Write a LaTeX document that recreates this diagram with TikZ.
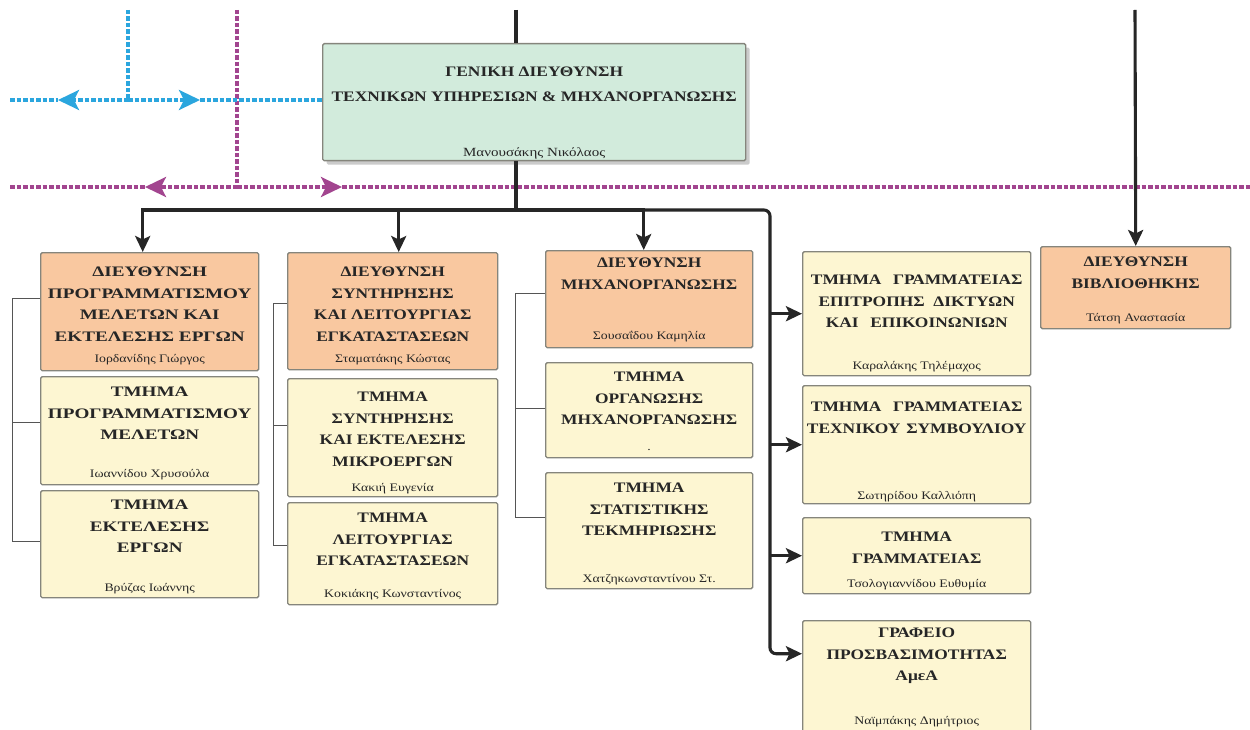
\documentclass[tikz,border=0pt]{standalone}
\usepackage{fontspec}
\setmainfont{Liberation Serif}
\newfontfamily\gkfont{Liberation Serif}[FakeStretch=1.2]
\newfontfamily\gkwide{Liberation Serif}[FakeStretch=1.32]
\usetikzlibrary{arrows.meta,shadows}
\definecolor{boxgreen}{HTML}{D2EBDC}
\definecolor{boxorange}{HTML}{F9C8A0}
\definecolor{boxyellow}{HTML}{FDF6D2}
\definecolor{boxline}{HTML}{85857C}
\definecolor{dashblue}{HTML}{2BA6DE}
\definecolor{dashpurple}{HTML}{A2458F}
\definecolor{linkblack}{HTML}{262626}
\definecolor{txt}{HTML}{262626}
\definecolor{brk}{HTML}{555555}
\tikzset{
  unit/.style={draw=boxline, line width=1.4pt, rounded corners=1.5pt, inner sep=0pt, anchor=north west},
  orgbox/.style={unit, fill=boxorange},
  yelbox/.style={unit, fill=boxyellow},
  title/.style={font=\gkfont\bfseries\fontsize{14.5}{21.5}\selectfont, align=center, text=txt, inner sep=0pt, anchor=north},
  widetitle/.style={title, font=\gkwide\bfseries\fontsize{14.5}{21.5}\selectfont},
  pname/.style={font=\gkfont\fontsize{11.5}{13}\selectfont, text=txt, inner sep=0pt, anchor=base},
  link/.style={draw=linkblack, line width=3.1pt},
  tip/.style={-{Stealth[length=16pt,width=15pt,inset=3.5pt]}},
  brace/.style={draw=brk, line width=0.9pt},
  bluedash/.style={draw=dashblue, line width=3.2pt, dash pattern=on 4.5pt off 2pt},
  purpdash/.style={draw=dashpurple, line width=3.2pt, dash pattern=on 4.5pt off 2pt},
  ctip/.style={-{Stealth[length=21pt,width=20pt,inset=5pt]}}
}
\begin{document}
\begin{tikzpicture}[x=1pt,y=-1pt]
\clip (0,0) rectangle (1250,730);
\fill[white] (0,0) rectangle (1250,730);

% ---- dashed-line end points ----
\coordinate (bl0) at (10,100);
\coordinate (bljn) at (128,100);
\coordinate (bltop) at (128,10);
\coordinate (blL) at (58,100);
\coordinate (blR) at (200,100);
\coordinate (pu0) at (10,187);
\coordinate (pu1) at (1250,187);
\coordinate (pujn) at (237,187);
\coordinate (putop) at (237,10);
\coordinate (puL) at (145,187);
\coordinate (puR) at (342,187);

% ---- top box ----
\node[unit, fill=boxgreen, minimum width=423pt, minimum height=117pt,
  drop shadow={shadow xshift=4pt, shadow yshift=-4pt, fill=black!40, opacity=0.5}] (T) at (322,43) {};
\node[title, font=\gkfont\bfseries\fontsize{14.5}{25}\selectfont] (Tt) at ([yshift=-24pt]T.north) {ΓΕΝΙΚΗ ΔΙΕΥΘΥΝΣΗ\\ΤΕΧΝΙΚΩΝ ΥΠΗΡΕΣΙΩΝ \& ΜΗΧΑΝΟΡΓΑΝΩΣΗΣ};
\node[pname, font=\gkfont\fontsize{12.5}{14}\selectfont] (Tn) at ([yshift=4.5pt]T.south) {Μανουσάκης Νικόλαος};

% ---- dashed lines ----
\draw[purpdash] (pu0) -- (puL);
\draw[purpdash] (puR) -- (pu1);
\draw[purpdash] (putop) -- (pujn);
\draw[purpdash, ctip] (pujn) -- (puL);
\draw[purpdash, ctip] (pujn) -- (puR);
\draw[bluedash] (bl0) -- (blL);
\draw[bluedash] (blR) -- (blR -| T.west);
\draw[bluedash] (bltop) -- (bljn);
\draw[bluedash, ctip] (bljn) -- (blL);
\draw[bluedash, ctip] (bljn) -- (blR);

% left column
\node[orgbox, minimum width=218pt, minimum height=118pt] (L1) at (40,252) {};
\node[widetitle] (L1t) at ([yshift=-15pt]L1.north) {ΔΙΕΥΘΥΝΣΗ\\ΠΡΟΓΡΑΜΜΑΤΙΣΜΟΥ\\ΜΕΛΕΤΩΝ ΚΑΙ\\ΕΚΤΕΛΕΣΗΣ ΕΡΓΩΝ};
\node[pname] (L1n) at ([yshift=9pt]L1.south) {Ιορδανίδης Γιώργος};
\node[yelbox, minimum width=218pt, minimum height=108pt] (L2) at (40,376) {};
\node[widetitle] (L2t) at ([yshift=-11pt]L2.north) {ΤΜΗΜΑ\\ΠΡΟΓΡΑΜΜΑΤΙΣΜΟΥ\\ΜΕΛΕΤΩΝ};
\node[pname] (L2n) at ([yshift=8pt]L2.south) {Ιωαννίδου Χρυσούλα};
\node[yelbox, minimum width=218pt, minimum height=107pt] (L3) at (40,490) {};
\node[widetitle] (L3t) at ([yshift=-10pt]L3.north) {ΤΜΗΜΑ\\ΕΚΤΕΛΕΣΗΣ\\ΕΡΓΩΝ};
\node[pname] (L3n) at ([yshift=7pt]L3.south) {Βρύζας Ιωάννης};

% middle column
\node[orgbox, minimum width=210pt, minimum height=117pt] (M1) at (287,252) {};
\node[title] (M1t) at ([yshift=-15pt]M1.north) {ΔΙΕΥΘΥΝΣΗ\\ΣΥΝΤΗΡΗΣΗΣ\\ΚΑΙ ΛΕΙΤΟΥΡΓΙΑΣ\\ΕΓΚΑΤΑΣΤΑΣΕΩΝ};
\node[pname] (M1n) at ([yshift=8pt]M1.south) {Σταματάκης Κώστας};
\node[yelbox, minimum width=210pt, minimum height=118pt] (M2) at (287,378) {};
\node[title] (M2t) at ([yshift=-14pt]M2.north) {ΤΜΗΜΑ\\ΣΥΝΤΗΡΗΣΗΣ\\ΚΑΙ ΕΚΤΕΛΕΣΗΣ\\ΜΙΚΡΟΕΡΓΩΝ};
\node[pname] (M2n) at ([yshift=6pt]M2.south) {Κακιή Ευγενία};
\node[yelbox, minimum width=210pt, minimum height=102pt] (M3) at (287,502) {};
\node[title] (M3t) at ([yshift=-11pt]M3.north) {ΤΜΗΜΑ\\ΛΕΙΤΟΥΡΓΙΑΣ\\ΕΓΚΑΤΑΣΤΑΣΕΩΝ};
\node[pname] (M3n) at ([yshift=8pt]M3.south) {Κοκιάκης Κωνσταντίνος};

% third column
\node[orgbox, minimum width=207pt, minimum height=97pt] (R1) at (545,250) {};
\node[title] (R1t) at ([yshift=-8pt]R1.north) {ΔΙΕΥΘΥΝΣΗ\\ΜΗΧΑΝΟΡΓΑΝΩΣΗΣ};
\node[pname] (R1n) at ([yshift=9pt]R1.south) {Σουσαΐδου Καμηλία};
\node[yelbox, minimum width=207pt, minimum height=95pt] (R2) at (545,362) {};
\node[title] (R2t) at ([yshift=-10pt]R2.north) {ΤΜΗΜΑ\\ΟΡΓΑΝΩΣΗΣ\\ΜΗΧΑΝΟΡΓΑΝΩΣΗΣ};
\node[pname] (R2n) at ([yshift=8pt]R2.south) {.};
\node[yelbox, minimum width=207pt, minimum height=116pt] (R3) at (545,472) {};
\node[title] (R3t) at ([yshift=-11pt]R3.north) {ΤΜΗΜΑ\\ΣΤΑΤΙΣΤΙΚΗΣ\\ΤΕΚΜΗΡΙΩΣΗΣ};
\node[pname] (R3n) at ([yshift=7pt]R3.south) {Χατζηκωνσταντίνου Στ.};

% far right column
\node[yelbox, minimum width=228pt, minimum height=124pt] (F1) at (802,251) {};
\node[title] (F1t) at ([yshift=-24pt]F1.north) {ΤΜΗΜΑ\hspace{0.8em}ΓΡΑΜΜΑΤΕΙΑΣ\\ΕΠΙΤΡΟΠΗΣ\hspace{0.6em}ΔΙΚΤΥΩΝ\\ΚΑΙ\hspace{0.8em}ΕΠΙΚΟΙΝΩΝΙΩΝ};
\node[pname] (F1n) at ([yshift=7pt]F1.south) {Καραλάκης Τηλέμαχος};
\node[yelbox, minimum width=228pt, minimum height=118pt] (F2) at (802,385) {};
\node[title] (F2t) at ([yshift=-17pt]F2.north) {ΤΜΗΜΑ\hspace{0.8em}ΓΡΑΜΜΑΤΕΙΑΣ\\ΤΕΧΝΙΚΟΥ\hspace{0.4em}ΣΥΜΒΟΥΛΙΟΥ};
\node[pname] (F2n) at ([yshift=5pt]F2.south) {Σωτηρίδου Καλλιόπη};
\node[yelbox, minimum width=228pt, minimum height=76pt] (F3) at (802,517) {};
\node[title] (F3t) at ([yshift=-15pt]F3.north) {ΤΜΗΜΑ\\ΓΡΑΜΜΑΤΕΙΑΣ};
\node[pname] (F3n) at ([yshift=7pt]F3.south) {Τσολογιαννίδου Ευθυμία};
\node[yelbox, minimum width=228pt, minimum height=120pt] (F4) at (802,620) {};
\node[title] (F4t) at ([yshift=-8pt]F4.north) {ΓΡΑΦΕΙΟ\\ΠΡΟΣΒΑΣΙΜΟΤΗΤΑΣ\\ΑμεΑ};
\node[pname] (F4n) at ([yshift=17pt]F4.south) {Ναϊμπάκης Δημήτριος};

% library
\node[orgbox, minimum width=190pt, minimum height=82pt] (B) at (1040,246) {};
\node[title] (Bt) at ([yshift=-11pt]B.north) {ΔΙΕΥΘΥΝΣΗ\\ΒΙΒΛΙΟΘΗΚΗΣ};
\node[pname] (Bn) at ([yshift=8pt]B.south) {Τάτση Αναστασία};

% ---- brackets ----
\draw[brace] ([yshift=13pt]L1.west) -- ++(-28,0) |- ([yshift=3pt]L3.west);
\draw[brace] ([yshift=8pt]L2.west) -- ++(-28,0);
\draw[brace] ([yshift=7.5pt]M1.west) -- ++(-14,0) |- ([yshift=8pt]M3.west);
\draw[brace] ([yshift=12pt]M2.west) -- ++(-14,0);
\draw[brace] ([yshift=5.5pt]R1.west) -- ++(-30,0) |- ([yshift=13pt]R3.west);
\draw[brace] ([yshift=1.5pt]R2.west) -- ++(-30,0);

% ---- black connectors ----
\coordinate (topin) at (516,10);
\coordinate (J) at (516,210);
\coordinate (V) at (770,210);
\coordinate (bibin) at (1135,10);
\draw[link] (topin) -- (topin |- T.north);
\draw[link] (J |- T.south) -- (J);
\draw[link, tip] (J) -| ([xshift=-7pt]L1.north);
\draw[link, tip] (J) -| ([xshift=6pt]M1.north);
\draw[link, tip] (J) -| ([xshift=-5.5pt]R1.north);
\draw[link, tip, rounded corners=6pt] (J) -- (V) |- ([yshift=27pt]F4.west);
\draw[link, tip] (V |- F1.west) -- (F1.west);
\draw[link, tip] (V |- F2.west) -- (F2.west);
\draw[link, tip] (V |- F3.west) -- (F3.west);
\draw[link, tip] (bibin) -- (B.north);
\end{tikzpicture}
\end{document}
